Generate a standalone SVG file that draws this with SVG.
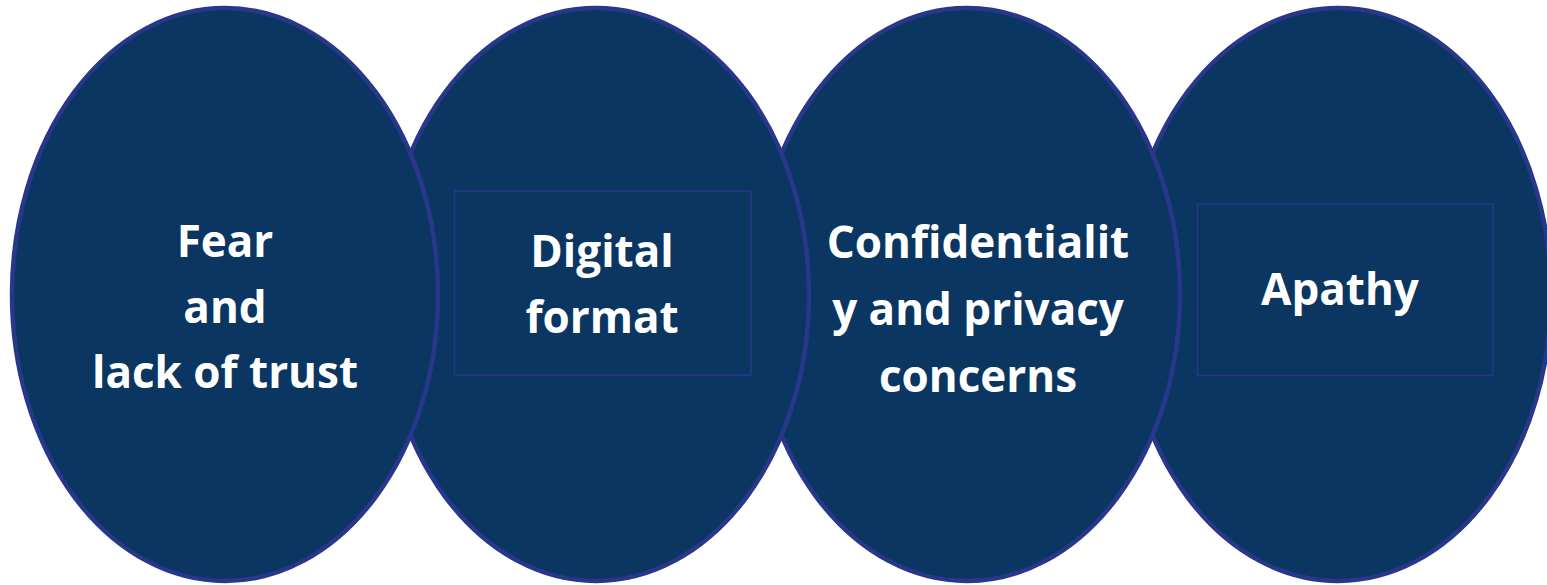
<svg xmlns="http://www.w3.org/2000/svg" width="1547" height="585" viewBox="0 0 1547 585">
  <style>
    .oval { fill: #0a3661; stroke: #29378a; stroke-width: 4.5; }
    .box { fill: none; stroke: #29378a; stroke-width: 1.5; }
    .lbl { fill: #ffffff; font-family: "Open Sans", "Noto Sans", "DejaVu Sans", sans-serif; font-weight: bold; font-size: 44px; text-anchor: middle; }
  </style>
  <rect width="1547" height="585" fill="#ffffff"/>
  <g id="node-apathy">
    <ellipse class="oval" cx="1338" cy="294.5" rx="213" ry="286.5"/>
    <rect class="box" x="1197.5" y="204" width="295.5" height="171.5"/>
    <text class="lbl" x="1340" y="305">Apathy</text>
  </g>
  <g id="node-confidentiality">
    <ellipse class="oval" cx="967" cy="294.5" rx="213" ry="286.5"/>
    <text class="lbl" x="978" y="258">Confidentialit</text>
    <text class="lbl" x="978" y="325">y and privacy</text>
    <text class="lbl" x="978" y="392">concerns</text>
  </g>
  <g id="node-digital">
    <ellipse class="oval" cx="596" cy="294.5" rx="213" ry="286.5"/>
    <rect class="box" x="454.5" y="191" width="296.5" height="184"/>
    <text class="lbl" x="602" y="267">Digital</text>
    <text class="lbl" x="602" y="333">format</text>
  </g>
  <g id="node-fear">
    <ellipse class="oval" cx="225" cy="294.5" rx="213" ry="286.5"/>
    <text class="lbl" x="225" y="257">Fear</text>
    <text class="lbl" x="225" y="323">and</text>
    <text class="lbl" x="225" y="388">lack of trust</text>
  </g>
  <g id="connectors"></g>
</svg>
